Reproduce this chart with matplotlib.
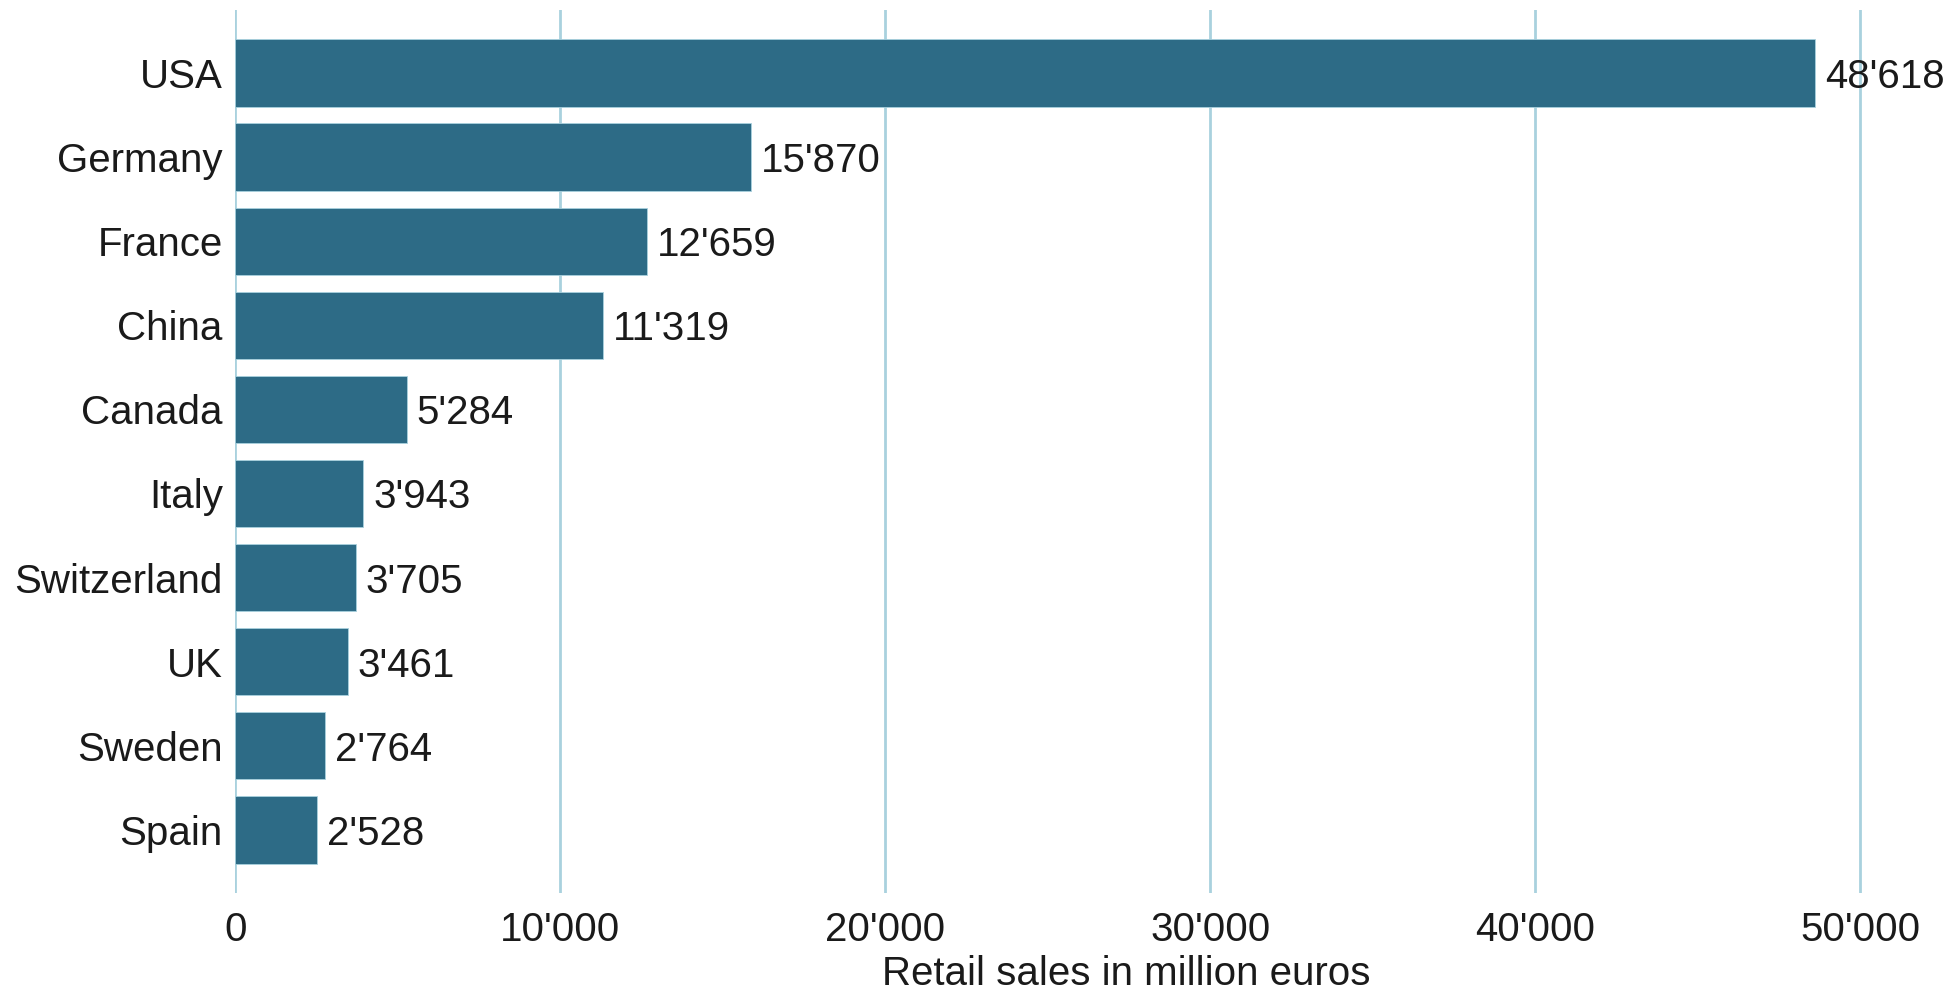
import matplotlib.pyplot as plt
from matplotlib.ticker import FuncFormatter

BAR_COL = "#2d6b86"
GRID_COL = "#a9d1de"

countries = ["USA", "Germany", "France", "China", "Canada", "Italy",
             "Switzerland", "UK", "Sweden", "Spain"]
sales = [48618, 15870, 12659, 11319, 5284, 3943, 3705, 3461, 2764, 2528]
x_ticks = [0, 10000, 20000, 30000, 40000, 50000]


def fmt_num(v, pos=None):
    return f"{int(v):,}".replace(",", "'")


plt.rcParams['font.family'] = ['Liberation Sans', 'DejaVu Sans']
FS = 29

fig = plt.figure(figsize=(19.52, 9.9), dpi=100)
ax = fig.add_axes([0.1205, 0.098, 0.85, 0.892])

bars = ax.barh(range(len(countries)), sales, height=0.8, color=BAR_COL,
               edgecolor=GRID_COL, linewidth=0.6, zorder=2)
for i, v in enumerate(sales):
    ax.annotate(fmt_num(v), (v, i), xytext=(7, 0), textcoords='offset points',
                ha='left', va='center_baseline', fontsize=FS, color='#1a1a1a', zorder=3)

ax.set_yticks(range(len(countries)))
ax.set_yticklabels(countries)
ax.set_ylim(9.75, -0.75)
ax.set_xlim(0, 51049)
ax.set_xticks(x_ticks)
ax.xaxis.set_major_formatter(FuncFormatter(fmt_num))
ax.set_xlabel("Retail sales in million euros", fontsize=FS, color='#1a1a1a')
ax.xaxis.set_label_coords(0.537, -0.07)

ax.tick_params(axis='both', length=0, labelsize=FS, colors='#1a1a1a')
ax.tick_params(axis='x', pad=13)
ax.tick_params(axis='y', pad=9)
ax.grid(axis='x', color=GRID_COL, lw=2, zorder=0)
ax.set_axisbelow(True)
for s in ax.spines.values():
    s.set_visible(False)

plt.savefig("out.png", dpi=100)
plt.close()
